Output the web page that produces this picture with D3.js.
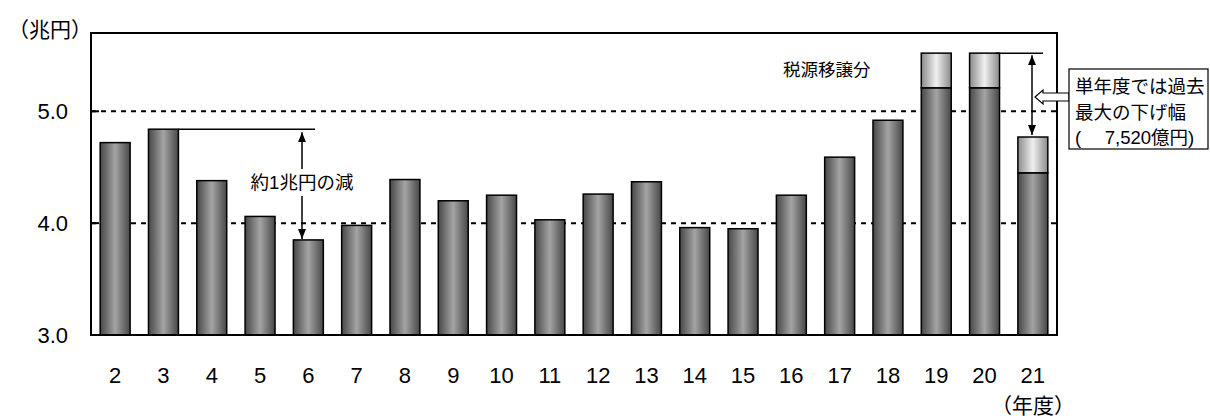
<!DOCTYPE html>
<html>

<head>
  <meta charset="utf-8">
  <title>bar chart</title>
  <style>
    body { margin: 0; background: #fff; }
    text { font-family: "Liberation Sans", "Noto Sans CJK JP", sans-serif; fill: #000; }
  </style>
</head>

<body>
  <svg width="1210" height="418"></svg>
  <script src="https://d3js.org/d3.v7.min.js"></script>
  <script>
    // data
    var years = ["2", "3", "4", "5", "6", "7", "8", "9", "10", "11", "12", "13", "14", "15", "16", "17", "18", "19", "20", "21"];
    var baseValues = [4.72, 4.84, 4.38, 4.06, 3.85, 3.98, 4.39, 4.20, 4.25, 4.03, 4.26, 4.37, 3.96, 3.95, 4.25, 4.59, 4.92, 5.21, 5.21, 4.45];
    var transferValues = [0, 0, 0, 0, 0, 0, 0, 0, 0, 0, 0, 0, 0, 0, 0, 0, 0, 0.31, 0.31, 0.32];
    var yTicks = [3.0, 4.0, 5.0];

    var svg = d3.select("svg");
    var plotLeft = 91, plotRight = 1057, plotTop = 33, plotBottom = 335;

    var x = d3.scaleBand().domain(years).range([plotLeft, plotRight])
      .paddingInner(0.38).paddingOuter(0.19);
    var y = d3.scaleLinear().domain([3, 5.7]).range([plotBottom, plotTop]);

    // gradients
    var defs = svg.append("defs");
    var g1 = defs.append("linearGradient").attr("id", "darkBar");
    g1.append("stop").attr("offset", "0%").attr("stop-color", "#474747");
    g1.append("stop").attr("offset", "50%").attr("stop-color", "#a4a4a4");
    g1.append("stop").attr("offset", "100%").attr("stop-color", "#474747");
    var g2 = defs.append("linearGradient").attr("id", "lightBar");
    g2.append("stop").attr("offset", "0%").attr("stop-color", "#8a8a8a");
    g2.append("stop").attr("offset", "50%").attr("stop-color", "#f0f0f0");
    g2.append("stop").attr("offset", "100%").attr("stop-color", "#8a8a8a");
    defs.append("marker").attr("id", "head")
      .attr("viewBox", "0 0 10 10").attr("refX", 10).attr("refY", 5)
      .attr("markerWidth", 10).attr("markerHeight", 10)
      .attr("markerUnits", "userSpaceOnUse")
      .attr("orient", "auto-start-reverse")
      .append("path").attr("d", "M0,1 L10,5 L0,9 Z").attr("fill", "#000");

    // gridlines
    svg.selectAll(".grid")
      .data(yTicks.filter(function (d) { return d > 3; }))
      .enter().append("line")
      .attr("x1", plotLeft).attr("x2", plotRight)
      .attr("y1", function (d) { return y(d); })
      .attr("y2", function (d) { return y(d); })
      .attr("stroke", "#000").attr("stroke-width", 2)
      .attr("stroke-dasharray", "5,5");

    // bars
    var bars = svg.selectAll(".bar").data(years).enter().append("g");
    bars.append("rect")
      .attr("x", function (d) { return x(d); })
      .attr("width", x.bandwidth())
      .attr("y", function (d, i) { return y(baseValues[i]); })
      .attr("height", function (d, i) { return y(3) - y(baseValues[i]); })
      .attr("fill", "url(#darkBar)")
      .attr("stroke", "#000").attr("stroke-width", 1.5);
    bars.filter(function (d, i) { return transferValues[i] > 0; })
      .append("rect")
      .attr("x", function (d) { return x(d); })
      .attr("width", x.bandwidth())
      .attr("y", function (d) { var i = years.indexOf(d); return y(baseValues[i] + transferValues[i]); })
      .attr("height", function (d) { var i = years.indexOf(d); return y(baseValues[i]) - y(baseValues[i] + transferValues[i]); })
      .attr("fill", "url(#lightBar)")
      .attr("stroke", "#000").attr("stroke-width", 1.5);

    // frame
    svg.append("rect")
      .attr("x", plotLeft).attr("y", plotTop)
      .attr("width", plotRight - plotLeft).attr("height", plotBottom - plotTop)
      .attr("fill", "none").attr("stroke", "#000").attr("stroke-width", 2);
    svg.selectAll(".tick")
      .data(yTicks.filter(function (d) { return d > 3; }))
      .enter().append("line")
      .attr("x1", plotLeft).attr("x2", plotLeft + 8)
      .attr("y1", function (d) { return y(d); })
      .attr("y2", function (d) { return y(d); })
      .attr("stroke", "#000").attr("stroke-width", 2);

    // axis labels
    svg.selectAll(".ylab").data(yTicks).enter().append("text")
      .attr("x", 68).attr("y", function (d) { return y(d); })
      .attr("dy", "0.35em").attr("text-anchor", "end")
      .attr("font-size", 22)
      .text(function (d) { return d.toFixed(1); });
    svg.selectAll(".xlab").data(years).enter().append("text")
      .attr("x", function (d) { return x(d) + x.bandwidth() / 2; })
      .attr("y", 375).attr("dy", "0.35em").attr("text-anchor", "middle")
      .attr("font-size", 22)
      .text(function (d) { return d; });
    svg.append("text").attr("x", 8).attr("y", 30).attr("dy", "0.35em")
      .attr("font-size", 21).text("（兆円）");
    svg.append("text").attr("x", 991).attr("y", 406).attr("dy", "0.35em")
      .attr("font-size", 21).text("（年度）");

    // annotation: 約1兆円の減
    var i3 = years.indexOf("3"), i6 = years.indexOf("6");
    var ax = 302;
    svg.append("line")
      .attr("x1", x("3") + x.bandwidth()).attr("x2", 315)
      .attr("y1", y(baseValues[i3])).attr("y2", y(baseValues[i3]))
      .attr("stroke", "#000").attr("stroke-width", 1.5);
    svg.append("line")
      .attr("x1", ax).attr("x2", ax)
      .attr("y1", y(baseValues[i3]) + 3).attr("y2", y(baseValues[i6]) - 1)
      .attr("stroke", "#000").attr("stroke-width", 1.5)
      .attr("marker-start", "url(#head)").attr("marker-end", "url(#head)");
    svg.append("rect").attr("x", ax - 56).attr("y", 169).attr("width", 112).attr("height", 27)
      .attr("fill", "#fff");
    svg.append("text").attr("x", ax).attr("y", 183).attr("dy", "0.35em")
      .attr("text-anchor", "middle").attr("font-size", 18.5).text("約1兆円の減");

    // annotation: 税源移譲分
    svg.append("text").attr("x", 783).attr("y", 70).attr("dy", "0.35em")
      .attr("font-size", 17.5).text("税源移譲分");

    // annotation: 7,520億円
    var i20 = years.indexOf("20"), i21 = years.indexOf("21");
    var top20 = y(baseValues[i20] + transferValues[i20]);
    var top21 = y(baseValues[i21] + transferValues[i21]);
    var bx = 1032;
    svg.append("line")
      .attr("x1", x("20") + x.bandwidth() - 4).attr("x2", 1043)
      .attr("y1", top20).attr("y2", top20)
      .attr("stroke", "#000").attr("stroke-width", 1.5);
    svg.append("line")
      .attr("x1", bx).attr("x2", bx)
      .attr("y1", top20 + 2).attr("y2", top21 - 2)
      .attr("stroke", "#000").attr("stroke-width", 1.5)
      .attr("marker-start", "url(#head)").attr("marker-end", "url(#head)");
    // hollow arrow
    var ay = 97;
    svg.append("path")
      .attr("d", "M1035," + ay + " L1043," + (ay - 7) + " L1043," + (ay - 4) + " L1069," + (ay - 4) +
        " L1069," + (ay + 4) + " L1043," + (ay + 4) + " L1043," + (ay + 7) + " Z")
      .attr("fill", "#fff").attr("stroke", "#000").attr("stroke-width", 1.2);
    svg.append("rect").attr("x", 1069).attr("y", 69).attr("width", 139).attr("height", 80)
      .attr("fill", "#fff").attr("stroke", "#000").attr("stroke-width", 1.2);
    var boxLines = ["単年度では過去", "最大の下げ幅", "(　 7,520億円)"];
    svg.selectAll(".boxt").data(boxLines).enter().append("text")
      .attr("x", 1075).attr("y", function (d, i) { return 87 + i * 25.5; })
      .attr("dy", "0.35em").attr("font-size", 18.5)
      .style("white-space", "pre")
      .text(function (d) { return d; });
  </script>
</body>

</html>
